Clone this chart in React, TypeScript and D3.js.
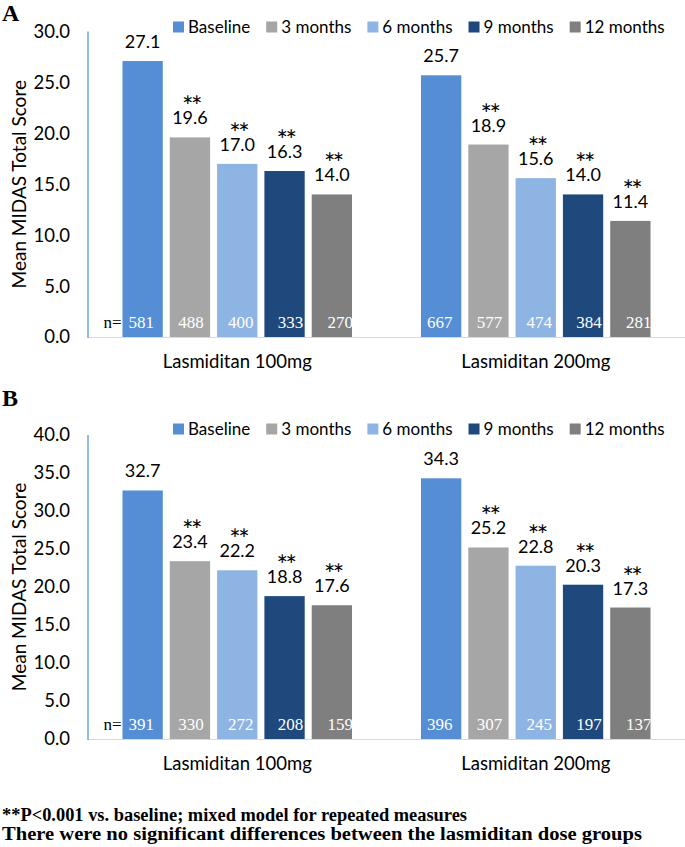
import React, { useEffect, useRef } from "react";
import * as d3 from "d3";

const groups = ["Lasmiditan 100mg", "Lasmiditan 200mg"];
const periods = ["Baseline", "3 months", "6 months", "9 months", "12 months"];
const periodColors = ["#558ED5", "#A6A6A6", "#8EB4E3", "#1F497D", "#7F7F7F"];
const significant = [false, true, true, true, true];

const panelAValues100 = [27.1, 19.6, 17.0, 16.3, 14.0];
const panelAValues200 = [25.7, 18.9, 15.6, 14.0, 11.4];
const panelAN100 = [581, 488, 400, 333, 270];
const panelAN200 = [667, 577, 474, 384, 281];
const panelATicks = [0, 5, 10, 15, 20, 25, 30];

const panelBValues100 = [32.7, 23.4, 22.2, 18.8, 17.6];
const panelBValues200 = [34.3, 25.2, 22.8, 20.3, 17.3];
const panelBN100 = [391, 330, 272, 208, 159];
const panelBN200 = [396, 307, 245, 197, 137];
const panelBTicks = [0, 5, 10, 15, 20, 25, 30, 35, 40];

const yTitle = "Mean MIDAS Total Score";
const footnotes = [
  "**P<0.001 vs. baseline; mixed model for repeated measures",
  "There were no significant differences between the lasmiditan dose groups",
];
const footnoteWidths = [465, 640];

const W = 685;
const H = 847;
const SANS = "Lato, 'Open Sans', sans-serif";
const SERIF = "'Liberation Serif', 'Times New Roman', serif";

type PanelCfg = {
  id: string;
  letter: string;
  values: number[][];
  ns: number[][];
  ticks: number[];
  top: number;
  bottom: number;
  legendY: number;
  letterY: number;
};

function drawPanel(svg: d3.Selection<SVGSVGElement, unknown, null, undefined>, cfg: PanelCfg) {
  const left = 88;
  const right = W;
  const yMax = cfg.ticks[cfg.ticks.length - 1];
  const y = d3.scaleLinear().domain([0, yMax]).range([cfg.bottom, cfg.top]);
  const x0 = d3.scaleBand<string>().domain(groups).range([left, right]);
  const x1 = d3
    .scaleBand<string>()
    .domain(periods)
    .range([0, x0.bandwidth()])
    .paddingInner(0.148)
    .paddingOuter(0.729);

  const g = svg.append("g");

  g.append("text")
    .attr("x", 2)
    .attr("y", cfg.letterY)
    .attr("font-family", SERIF)
    .attr("font-weight", "bold")
    .attr("font-size", 24)
    .text(cfg.letter);

  g.selectAll("text.tick")
    .data(cfg.ticks)
    .join("text")
    .attr("class", "tick")
    .attr("x", 70)
    .attr("y", (d) => y(d))
    .attr("dy", "0.35em")
    .attr("text-anchor", "end")
    .attr("font-family", SANS)
    .attr("font-size", 18.5)
    .attr("fill", "#000")
    .text((d) => d3.format(".1f")(d));

  g.append("text")
    .attr("transform", `translate(26,${(cfg.top + cfg.bottom) / 2}) rotate(-90)`)
    .attr("text-anchor", "middle")
    .attr("font-family", SANS)
    .attr("font-size", 19)
    .attr("fill", "#000")
    .text(yTitle);

  g.append("line")
    .attr("x1", left)
    .attr("x2", right)
    .attr("y1", cfg.bottom + 0.5)
    .attr("y2", cfg.bottom + 0.5)
    .attr("stroke", "#D9D9D9")
    .attr("stroke-width", 1.2);

  g.append("line")
    .attr("x1", left)
    .attr("x2", left)
    .attr("y1", y(yMax))
    .attr("y2", cfg.bottom + 1)
    .attr("stroke", "#5B9BD5")
    .attr("stroke-width", 1.3);

  const defs = svg.append("defs");

  groups.forEach((grp, gi) => {
    const gx = x0(grp)!;
    periods.forEach((p, pi) => {
      const v = cfg.values[gi][pi];
      const bx = gx + x1(p)!;
      const bw = x1.bandwidth();
      const clipId = `clip-${cfg.id}-${gi}-${pi}`;
      defs
        .append("clipPath")
        .attr("id", clipId)
        .append("rect")
        .attr("x", bx)
        .attr("y", y(v))
        .attr("width", bw)
        .attr("height", cfg.bottom - y(v));

      g.append("rect")
        .attr("x", bx)
        .attr("y", y(v))
        .attr("width", bw)
        .attr("height", cfg.bottom - y(v))
        .attr("fill", periodColors[pi]);

      g.append("text")
        .attr("x", bx + bw / 2)
        .attr("y", y(v) - 13)
        .attr("text-anchor", "middle")
        .attr("font-family", SANS)
        .attr("font-size", 18)
        .attr("fill", "#000")
        .text(d3.format(".1f")(v));

      if (significant[pi]) {
        g.append("text")
          .attr("x", bx + bw / 2 + 1)
          .attr("y", y(v) - 13 - 8)
          .attr("text-anchor", "middle")
          .attr("font-family", SANS)
          .attr("font-size", 27)
          .attr("letter-spacing", -2.5)
          .attr("fill", "#000")
          .text("**");
      }

      g.append("text")
        .attr("x", bx + bw / 2 - 1.5 + pi * 2.5)
        .attr("y", cfg.bottom - 9)
        .attr("text-anchor", "middle")
        .attr("font-family", SERIF)
        .attr("font-size", 17)
        .attr("fill", "#fff")
        .attr("clip-path", `url(#${clipId})`)
        .text(String(cfg.ns[gi][pi]));

      if (gi === 0 && pi === 0) {
        g.append("text")
          .attr("x", bx - 1)
          .attr("y", cfg.bottom - 9)
          .attr("text-anchor", "end")
          .attr("font-family", SERIF)
          .attr("font-size", 17)
          .attr("fill", "#000")
          .text("n=");
      }
    });

    g.append("text")
      .attr("x", gx + x0.bandwidth() / 2)
      .attr("y", cfg.bottom + 31)
      .attr("text-anchor", "middle")
      .attr("font-family", SANS)
      .attr("font-size", 18.5)
      .attr("fill", "#000")
      .text(grp);
  });

  let lx = 173;
  periods.forEach((p, pi) => {
    g.append("rect")
      .attr("x", lx)
      .attr("y", cfg.legendY - 5.5)
      .attr("width", 11)
      .attr("height", 11)
      .attr("fill", periodColors[pi]);
    const t = g
      .append("text")
      .attr("x", lx + 15)
      .attr("y", cfg.legendY)
      .attr("dy", "0.35em")
      .attr("font-family", SANS)
      .attr("font-size", 17)
      .attr("fill", "#000")
      .text(p);
    const w = (t.node() as SVGTextElement).getComputedTextLength();
    lx = lx + 15 + w + 16;
  });
}

export default function App() {
  const ref = useRef<SVGSVGElement | null>(null);
  useEffect(() => {
    if (!ref.current) return;
    const svg = d3.select(ref.current);
    svg.selectAll("*").remove();
    svg.append("rect").attr("width", W).attr("height", H).attr("fill", "#fff");

    drawPanel(svg as any, {
      id: "A",
      letter: "A",
      values: [panelAValues100, panelAValues200],
      ns: [panelAN100, panelAN200],
      ticks: panelATicks,
      top: 31.5,
      bottom: 337,
      legendY: 27,
      letterY: 21,
    });
    drawPanel(svg as any, {
      id: "B",
      letter: "B",
      values: [panelBValues100, panelBValues200],
      ns: [panelBN100, panelBN200],
      ticks: panelBTicks,
      top: 435,
      bottom: 739,
      legendY: 429,
      letterY: 406,
    });

    svg
      .selectAll("text.foot")
      .data(footnotes)
      .join("text")
      .attr("class", "foot")
      .attr("x", 2)
      .attr("y", (_d, i) => 821 + i * 19)
      .attr("font-family", SERIF)
      .attr("font-weight", "bold")
      .attr("font-size", 18)
      .attr("fill", "#000")
      .attr("textLength", (_d, i) => footnoteWidths[i])
      .attr("lengthAdjust", "spacingAndGlyphs")
      .text((d) => d);
  }, []);

  return (
    <svg
      ref={ref}
      width={W}
      height={H}
      style={{ position: "absolute", left: 0, top: 0, display: "block" }}
    />
  );
}
